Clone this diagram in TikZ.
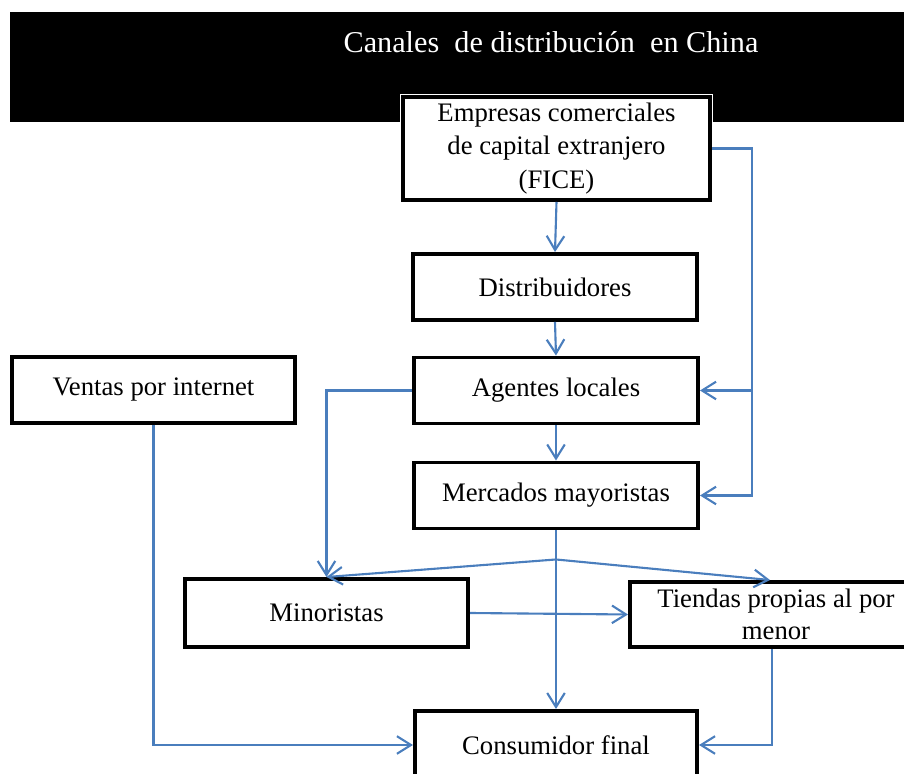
\documentclass[tikz,border=0pt]{standalone}
\usepackage{fontspec}
\setmainfont{Liberation Serif}
\usepackage{tikz}
\usetikzlibrary{arrows.meta}
\definecolor{linkblue}{RGB}{74,126,189}

\begin{document}
\begin{tikzpicture}[x=0.025cm, y=-0.025cm,
	box/.style={rectangle, draw=black, fill=white, line width=2.8pt, align=center, inner sep=1pt, font=\fontsize{19}{24}\selectfont},
	link/.style={draw=linkblue, line width=1.5pt, -{Straight Barb[length=10pt,width=12.5pt]}}]

	\useasboundingbox (0,0) rectangle (904,774);

	% banner
	\fill [black] (10,12) rectangle (910,122);
	\node (title) at (551,42) [text=white, font=\fontsize{21.5}{26}\selectfont] {Canales\ \ de distribución\ \ en China};

	\node (fice) at (556.5,148.5) [box, minimum width=7.675cm, minimum height=2.575cm, preaction={draw=white, line width=4.8pt}] {Empresas comerciales\\de capital extranjero\\(FICE)};
	\node (dist) at (555,287) [box, minimum width=7.1cm, minimum height=1.65cm] {Distribuidores};
	\node (agen) at (556,390.5) [box, minimum width=7.1cm, minimum height=1.65cm] {Agentes locales};
	\node (merc) at (556,495.5) [box, minimum width=7.1cm, minimum height=1.65cm] {Mercados mayoristas};
	\node (vent) at (153.5,390) [box, minimum width=7.075cm, minimum height=1.65cm] {Ventas por internet};
	\node (mino) at (326.5,613) [box, minimum width=7.075cm, minimum height=1.7cm] {Minoristas};
	\node (tien) at (776,614.5) [box, minimum width=7.3cm, minimum height=1.625cm, inner sep=0pt, font=\fontsize{19}{22.5}\selectfont] {Tiendas propias al por\\menor};
	\node (cons) at (556,745) [box, minimum width=7.05cm, minimum height=1.7cm] {Consumidor final};

	% main chain
	\draw [link] (fice.south) -- (dist.north);
	\draw [link] (dist.south) -- (agen.north);
	\draw [link] (agen.south) -- (merc.north);

	% direct from FICE
	\draw [link] (fice.east) -- ++(40,0) coordinate (r1) |- (merc.east);
	\draw [link] (r1 |- agen.east) -- (agen.east);

	\draw [link] (agen.west) -| (mino.north);

	% wholesale split
	\path (merc.south) ++(0,29) coordinate (split);
	\draw [link] (merc.south) -- (cons.north);
	\draw [link] (split) -- (mino.north);
	\draw [link] (split) -- ([xshift=-0.15cm]tien.north);
	\draw [link] (mino.east) -- (tien.west);

	\draw [link] (vent.south) |- (cons.west);
	\draw [link] ([xshift=-0.1cm]tien.south) |- (cons.east);

\end{tikzpicture}
\end{document}
